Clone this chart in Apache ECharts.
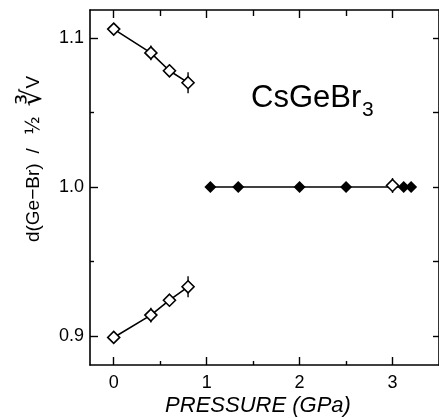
<!DOCTYPE html>
<html>
<head>
<meta charset="utf-8">
<script src="https://cdn.jsdelivr.net/npm/echarts@6/dist/echarts.min.js"></script>
<style>html,body{margin:0;padding:0;background:#fff}#c{width:439px;height:418px}</style>
</head>
<body>
<div id="c"></div>
<script>
// ---- data ----
const xLowP = [0, 0.4, 0.6, 0.8];                 // pressure (GPa), low-pressure phase
const yUpper = [1.106, 1.090, 1.078, 1.070];       // long Ge-Br distance
const errUpper = [0, 0.005, 0.003, 0.007];
const yLower = [0.899, 0.914, 0.924, 0.933];       // short Ge-Br distance
const errLower = [0, 0.005, 0.003, 0.007];
const xHighFilled = [1.04, 1.34, 2.0, 2.5, 3.12, 3.2];
const yHighFilled = [1.0, 1.0, 1.0, 1.0, 1.0, 1.0];
const xHighOpen = [3.0];
const yHighOpen = [1.001];
const errHighOpen = [0.005];
const xMajorTicks = [0, 1, 2, 3];
const xMinorTicks = [0.5, 1.5, 2.5];
const yMajorTicks = [0.9, 1.0, 1.1];
const yMinorTicks = [0.95, 1.05];
const xTitle = 'PRESSURE (GPa)';
const compound = 'CsGeBr';
const compoundSub = '3';

const XMIN = -0.255, XMAX = 3.5, YMIN = 0.8805, YMAX = 1.1188;
const FONT = '"Liberation Sans", Arial, sans-serif';

const zip = (xs, ys) => xs.map((x, i) => [x, ys[i]]);
const errData = (xs, ys, es) => xs.map((x, i) => [x, ys[i] - es[i], ys[i] + es[i]]).filter((d, i) => es[i] > 0);

const chart = echarts.init(document.getElementById('c'), null, {renderer: 'canvas'});

function xAx(pos, ticks, len, showLine, showLabel) {
  return {
    type: 'value', position: pos, min: XMIN, max: XMAX,
    axisLine: {show: showLine, onZero: false, lineStyle: {color: '#000', width: 1.6}},
    axisTick: {show: true, inside: true, length: len, customValues: ticks, lineStyle: {color: '#000', width: 1.4}},
    axisLabel: {show: showLabel, customValues: ticks, color: '#000', fontSize: 18, fontFamily: FONT, margin: 9,
      formatter: v => String(Math.round(v))},
    splitLine: {show: false}
  };
}
function yAx(pos, ticks, len, showLine, showLabel) {
  return {
    type: 'value', position: pos, min: YMIN, max: YMAX,
    axisLine: {show: showLine, onZero: false, lineStyle: {color: '#000', width: 1.6}},
    axisTick: {show: true, inside: true, length: len, customValues: ticks, lineStyle: {color: '#000', width: 1.4}},
    axisLabel: {show: showLabel, customValues: ticks, color: '#000', fontSize: 18, fontFamily: FONT, margin: 6,
      formatter: v => v.toFixed(1)},
    splitLine: {show: false}
  };
}

function errSeries(data) {
  return {
    type: 'custom', xAxisIndex: 0, yAxisIndex: 0, z: 3, silent: true,
    data: data,
    renderItem: (params, api) => {
      const p1 = api.coord([api.value(0), api.value(1)]);
      const p2 = api.coord([api.value(0), api.value(2)]);
      return {type: 'line', shape: {x1: p1[0], y1: p1[1], x2: p2[0], y2: p2[1]},
        style: {stroke: '#000', lineWidth: 1.4}};
    }
  };
}
function lineSeries(data) {
  return {type: 'line', xAxisIndex: 0, yAxisIndex: 0, data: data, symbol: 'none', z: 2,
    lineStyle: {color: '#000', width: 1.6}, silent: true, animation: false};
}
function markSeries(data, filled, size) {
  return {type: 'scatter', xAxisIndex: 0, yAxisIndex: 0, data: data, symbol: 'diamond', symbolSize: size, z: 5,
    itemStyle: {color: filled ? '#000' : '#fff', borderColor: '#000', borderWidth: filled ? 0 : 1.6, opacity: 1},
    silent: true};
}

const highAll = zip(xHighFilled.concat(xHighOpen), yHighFilled.concat(yHighOpen)).sort((a, b) => a[0] - b[0]);
const highFit = [highAll[0], [highAll[highAll.length - 1][0], highAll[0][1]]];

chart.setOption({
  animation: false,
  backgroundColor: '#fff',
  grid: {left: 90, top: 10, width: 353, height: 355},
  xAxis: [
    xAx('bottom', xMajorTicks, 8, true, true),
    xAx('bottom', xMinorTicks, 4, false, false),
    xAx('top', xMajorTicks, 8, true, false),
    xAx('top', xMinorTicks, 6, false, false)
  ],
  yAxis: [
    yAx('left', yMajorTicks, 8, true, true),
    yAx('left', yMinorTicks, 4, false, false),
    yAx('right', yMajorTicks.concat(yMinorTicks), 6, true, false)
  ],
  series: [
    lineSeries(zip(xLowP, yUpper)),
    lineSeries(zip(xLowP, yLower)),
    lineSeries(highFit),
    errSeries(errData(xLowP, yUpper, errUpper)),
    errSeries(errData(xLowP, yLower, errLower)),
    errSeries(errData(xHighOpen, yHighOpen, errHighOpen)),
    markSeries(zip(xLowP, yUpper), false, 12),
    markSeries(zip(xLowP, yLower), false, 12),
    markSeries(zip(xHighFilled, yHighFilled), true, 12),
    markSeries(zip(xHighOpen, yHighOpen), false, 12)
  ],
  graphic: [
    {type: 'text', left: 251, top: 83, z: 10,
      style: {text: compound, font: '31px ' + FONT, fill: '#000'}},
    {type: 'text', left: 362, top: 100, z: 10,
      style: {text: compoundSub, font: '21px ' + FONT, fill: '#000'}},
    {type: 'text', x: 258, y: 406, z: 10,
      style: {text: xTitle, font: 'italic 22px ' + FONT, fill: '#000', align: 'center', verticalAlign: 'middle'}},
    {type: 'text', x: 34, y: 159, rotation: Math.PI / 2, z: 10,
      style: {
        text: '{n|d(Ge−Br)}   {n|/}    {f|½}   {r|∛}{n|V}',
        align: 'center', verticalAlign: 'middle', fill: '#000',
        rich: {
          n: {fontSize: 19, fontFamily: FONT, fill: '#000'},
          f: {fontSize: 19, fontFamily: '"DejaVu Sans", sans-serif', fill: '#000'},
          r: {fontSize: 28, fontFamily: '"DejaVu Sans", sans-serif', fill: '#000'}
        }
      }}
  ]
});
</script>
</body>
</html>
